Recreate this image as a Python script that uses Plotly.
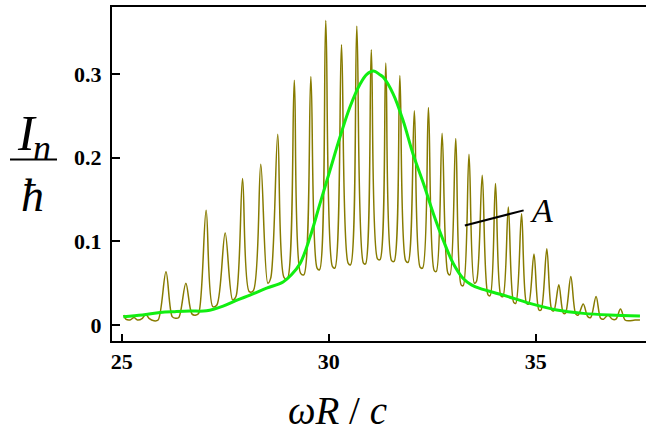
import plotly.graph_objects as go

# ---- data ----
trace_x = [25.05, 25.10, 25.20, 25.30, 25.38, 25.50, 25.58, 25.66, 25.78, 25.88,
           26.07, 26.22, 26.30, 26.38, 26.55, 26.70, 26.80, 26.86,
           27.04, 27.20, 27.30, 27.50, 27.68, 27.76, 27.92, 28.08, 28.18,
           28.36, 28.53, 28.60, 28.77, 28.92, 29.00, 29.17, 29.32, 29.40,
           29.57, 29.72, 29.78, 29.93, 30.09, 30.15, 30.31, 30.47, 30.53,
           30.68, 30.84, 30.89, 31.03, 31.18, 31.24, 31.38, 31.52, 31.58,
           31.72, 31.86, 31.92, 32.07, 32.21, 32.27, 32.41, 32.55, 32.60,
           32.74, 32.88, 32.93, 33.07, 33.20, 33.25, 33.39, 33.52, 33.57,
           33.71, 33.85, 33.90, 34.03, 34.16, 34.21, 34.34, 34.47, 34.52,
           34.66, 34.78, 34.83, 34.96, 35.08, 35.13, 35.27, 35.39, 35.44,
           35.56, 35.67, 35.72, 35.85, 35.97, 36.03, 36.15, 36.26, 36.33,
           36.46, 36.57, 36.64, 36.75, 36.85, 36.94, 37.05, 37.16, 37.25,
           37.40, 37.52]
trace_y = [0.012, 0.007, 0.006, 0.009, 0.006, 0.008, 0.013, 0.008, 0.005, 0.006,
           0.0635, 0.010, 0.008, 0.009, 0.050, 0.013, 0.012, 0.014,
           0.137, 0.022, 0.024, 0.110, 0.030, 0.034, 0.175, 0.040, 0.041,
           0.192, 0.050, 0.056, 0.228, 0.057, 0.055, 0.2925, 0.062, 0.060,
           0.297, 0.068, 0.066, 0.364, 0.070, 0.068, 0.335, 0.074, 0.072,
           0.357, 0.074, 0.073, 0.329, 0.079, 0.078, 0.313, 0.077, 0.076,
           0.298, 0.077, 0.075, 0.256, 0.069, 0.068, 0.260, 0.065, 0.064,
           0.229, 0.062, 0.060, 0.223, 0.048, 0.047, 0.204, 0.050, 0.052,
           0.179, 0.036, 0.035, 0.169, 0.035, 0.034, 0.141, 0.027, 0.026,
           0.133, 0.026, 0.025, 0.085, 0.018, 0.018, 0.091, 0.018, 0.017,
           0.048, 0.014, 0.014, 0.058, 0.013, 0.012, 0.025, 0.010, 0.009,
           0.034, 0.008, 0.007, 0.012, 0.007, 0.007, 0.019, 0.006, 0.005,
           0.006, 0.006]

smooth_x = [25.04, 25.5, 25.93, 26.3, 26.65, 27.05, 27.45, 27.8, 28.1, 28.5,
            28.9, 29.1, 29.31, 29.55, 29.79, 30.03, 30.27, 30.51, 30.76, 30.92,
            31.08, 31.24, 31.32, 31.56, 31.8, 32.04, 32.29, 32.53, 32.77, 33.01,
            33.25, 33.45, 33.65, 34.22, 34.86, 35.51, 36.15, 36.79, 37.52]
smooth_y = [0.010, 0.012, 0.015, 0.016, 0.0167, 0.017, 0.0226, 0.030, 0.0357, 0.044,
            0.0515, 0.060, 0.0735, 0.105, 0.145, 0.1845, 0.224, 0.260, 0.288, 0.2996,
            0.3036, 0.299, 0.296, 0.276, 0.244, 0.204, 0.169, 0.133, 0.101, 0.0735,
            0.0556, 0.048, 0.0437, 0.0357, 0.0258, 0.0179, 0.0139, 0.0119, 0.0107]

x_ticks = [25, 30, 35]
y_ticks = [0, 0.1, 0.2, 0.3]
y_tick_text = ["0", "0.1", "0.2", "0.3"]

label_A_line_x = [33.29, 34.71]
label_A_line_y = [0.119, 0.137]

# ---- figure ----
W, H = 646, 432
ML, MR, MT, MB = 112, 0, 7, 91
PW, PH = W - ML - MR, H - MT - MB


def px(p):
    return (p - ML) / PW


def py(p):
    return (H - MB - p) / PH


SERIF = "Liberation Serif, Times New Roman, serif"

fig = go.Figure()
fig.add_trace(go.Scatter(x=trace_x, y=trace_y, mode="lines",
                         line=dict(color="#877b00", width=1.5, shape="spline", smoothing=0.9),
                         hoverinfo="skip", showlegend=False))
fig.add_trace(go.Scatter(x=smooth_x, y=smooth_y, mode="lines",
                         line=dict(color="#11ee11", width=3, shape="spline"),
                         hoverinfo="skip", showlegend=False))
fig.add_trace(go.Scatter(x=label_A_line_x, y=label_A_line_y, mode="lines",
                         line=dict(color="black", width=2),
                         hoverinfo="skip", showlegend=False))

fig.update_layout(
    width=W, height=H,
    margin=dict(l=ML, r=MR, t=MT, b=MB, pad=0),
    paper_bgcolor="white", plot_bgcolor="white",
    showlegend=False,
    xaxis=dict(range=[24.766, 37.666], tickvals=x_ticks, ticks="inside",
               ticklen=7, tickwidth=2, tickcolor="black",
               showline=True, linecolor="black", linewidth=2, mirror=True,
               showgrid=False, zeroline=False, ticklabelstandoff=0,
               tickfont=dict(family=SERIF, size=22, color="black", weight="bold")),
    yaxis=dict(range=[-0.0191, 0.380], tickvals=y_ticks, ticktext=y_tick_text,
               ticks="inside", ticklen=8, tickwidth=2, tickcolor="black",
               showline=True, linecolor="black", linewidth=2,
               showgrid=False, zeroline=False, ticklabelstandoff=4,
               tickfont=dict(family=SERIF, size=22, color="black", weight="bold")),
)

ann = []
# x-axis title
ann.append(dict(text="<i>ωR</i> / <i>c</i>", xref="paper", yref="paper",
                x=px(337), y=py(410), xanchor="center", yanchor="middle",
                showarrow=False, font=dict(family=SERIF, size=39, color="black")))
# y-axis title as a fraction
ann.append(dict(text="<i>I</i>", xref="paper", yref="paper",
                x=px(27), y=py(133), xanchor="center", yanchor="middle",
                showarrow=False, font=dict(family=SERIF, size=50, color="black")))
ann.append(dict(text="<i>n</i>", xref="paper", yref="paper",
                x=px(42), y=py(148), xanchor="center", yanchor="middle",
                showarrow=False, font=dict(family=SERIF, size=36, color="black")))
ann.append(dict(text="<i>ħ</i>", xref="paper", yref="paper",
                x=px(32), y=py(195), xanchor="center", yanchor="middle",
                showarrow=False, font=dict(family=SERIF, size=46, color="black")))
# label A
ann.append(dict(text="<i>A</i>", xref="paper", yref="paper",
                x=px(541), y=py(210), xanchor="center", yanchor="middle",
                showarrow=False, font=dict(family=SERIF, size=34, color="black")))
fig.update_layout(annotations=ann)

fig.add_shape(type="line", xref="paper", yref="paper",
              x0=px(10), x1=px(57), y0=py(159.5), y1=py(159.5),
              line=dict(color="black", width=2))

fig.write_html("out.html")
